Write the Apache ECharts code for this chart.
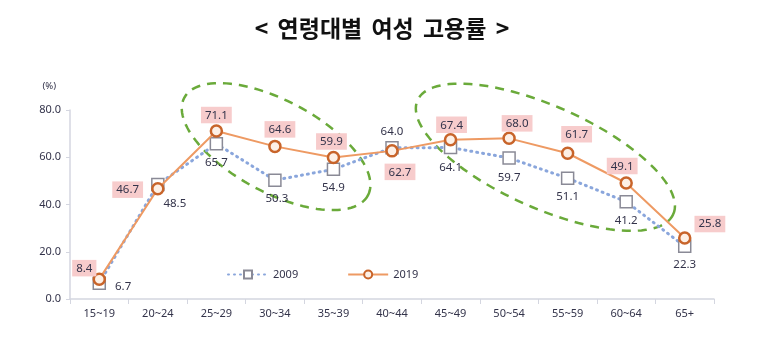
<!DOCTYPE html>
<html>
<head>
<meta charset="utf-8">
<script src="https://cdn.jsdelivr.net/npm/echarts@6/dist/echarts.min.js"></script>
<style>
  html, body { margin: 0; padding: 0; background: #fff; }
  #chart { width: 764px; height: 346px; }
</style>
</head>
<body>
<div id="chart"></div>
<script>
// Women's employment rate by age group (%)
const ageGroups = ['15~19', '20~24', '25~29', '30~34', '35~39', '40~44', '45~49', '50~54', '55~59', '60~64', '65+'];
const rate2009 = [6.7, 48.5, 65.7, 50.3, 54.9, 64.0, 64.1, 59.7, 51.1, 41.2, 22.3];
const rate2019 = [8.4, 46.7, 71.1, 64.6, 59.9, 62.7, 67.4, 68.0, 61.7, 49.1, 25.8];
const yTicks = [0, 20, 40, 60, 80];

// label placement per point: [position, dx, dy]
const pos2009 = [['right', 4, 4], ['bottom', 17, 2], ['bottom', 0, 1], ['bottom', 2, 1], ['bottom', 0, 1], ['top', 0, 1], ['bottom', 0, 3], ['bottom', 0, 2], ['bottom', 0, 1], ['bottom', 0, 2], ['bottom', 0, 1]];
const pos2019 = [['top', -15, 9], ['left', -3, 1], ['top', 0, 4], ['top', 5, 3], ['top', -2, 4], ['bottom', 8, 1], ['top', 1, 5], ['top', 8, 5], ['top', 9, 1], ['top', -4, 3], ['right', -2, -14]];

const textColor = '#33334a';
const font = '"Noto Sans", "Noto Sans CJK KR", sans-serif';
const titleFont = '"Noto Sans CJK KR", sans-serif';

const chart = echarts.init(document.getElementById('chart'));

function labelled(values, places, extra) {
  return values.map((v, i) => ({
    value: v,
    label: Object.assign({
      position: places[i][0],
      offset: [places[i][1], places[i][2]]
    }, extra || {})
  }));
}

chart.setOption({
  animation: false,
  title: {
    text: '{w|<} {w|연령대별} {w|여성} {w|고용률} {w|>}',
    left: 'center',
    top: 12,
    padding: [5, 5, 5, 19],
    textStyle: {
      fontFamily: titleFont, fontSize: 23, fontWeight: 'bold', color: '#111',
      rich: {
        w: { fontFamily: titleFont, fontSize: 23, fontWeight: 'bold', color: '#111', padding: [0, 2, 0, 2] }
      }
    }
  },
  grid: { left: 70, right: 50, top: 110, bottom: 47 },
  legend: {
    left: 222,
    top: 264,
    itemWidth: 40,
    itemHeight: 10,
    itemGap: 49,
    textStyle: { fontFamily: font, fontSize: 11, color: textColor },
    data: ['2009', '2019']
  },
  xAxis: {
    type: 'category',
    data: ageGroups,
    axisLine: { lineStyle: { color: '#d4d6e0', width: 1.5 } },
    axisTick: { show: true, length: 5, lineStyle: { color: '#d4d6e0' } },
    axisLabel: { fontFamily: font, fontSize: 11, color: textColor, margin: 9 }
  },
  yAxis: {
    type: 'value',
    min: yTicks[0],
    max: yTicks[yTicks.length - 1],
    interval: 20,
    name: '(%)',
    nameLocation: 'end',
    nameGap: 19,
    nameTextStyle: { fontFamily: font, fontSize: 9.5, color: textColor, align: 'right', padding: [0, 14, 0, 0] },
    splitLine: { show: false },
    axisLine: { show: true, lineStyle: { color: '#d4d6e0', width: 1.5 } },
    axisTick: { show: true, length: 4, lineStyle: { color: '#d4d6e0' } },
    axisLabel: { fontFamily: font, fontSize: 11, color: textColor, margin: 9, formatter: v => v.toFixed(1) }
  },
  series: [
    {
      name: '2009',
      type: 'line',
      data: labelled(rate2009, pos2009),
      symbol: 'rect',
      symbolSize: 12,
      z: 2,
      lineStyle: { color: '#8aa6dc', width: 3, type: [1, 5], cap: 'round' },
      itemStyle: { color: '#ffffff', borderColor: '#8a8a96', borderWidth: 1.5 },
      label: {
        show: true,
        fontFamily: font, fontSize: 11.5, color: textColor,
        formatter: p => p.value.toFixed(1)
      }
    },
    {
      name: '2019',
      type: 'line',
      data: labelled(rate2019, pos2019),
      symbol: 'circle',
      symbolSize: 11,
      z: 3,
      lineStyle: { color: '#ee9a63', width: 2 },
      itemStyle: { color: '#fdf0e6', borderColor: '#c8642a', borderWidth: 2.5 },
      label: {
        show: true,
        fontFamily: font, fontSize: 11.5, color: textColor,
        backgroundColor: '#f7cccc',
        padding: [3, 4, 2, 4],
        formatter: p => p.value.toFixed(1)
      }
    }
  ]
});

// Dashed ellipses highlighting the two regions of change.
// Centres are anchored to axis coordinates: [category index (fractional), value].
const highlights = [
  { at: [3.02, 64.5], rx: 104, ry: 46, tilt: 28 },
  { at: [7.62, 60.0], rx: 140, ry: 51, tilt: 24 }
];

function pixelOf(idx, val) {
  const i0 = Math.floor(idx);
  const p0 = chart.convertToPixel({ gridIndex: 0 }, [i0, val]);
  const p1 = chart.convertToPixel({ gridIndex: 0 }, [i0 + 1, val]);
  const f = idx - i0;
  return [p0[0] + (p1[0] - p0[0]) * f, p0[1]];
}

const ellipses = highlights.map(h => {
  const c = pixelOf(h.at[0], h.at[1]);
  const t = h.tilt * Math.PI / 180;
  const pts = [];
  for (let k = 0; k < 120; k++) {
    const a = k / 120 * Math.PI * 2;
    const ex = h.rx * Math.cos(a), ey = h.ry * Math.sin(a);
    pts.push([c[0] + ex * Math.cos(t) - ey * Math.sin(t), c[1] + ex * Math.sin(t) + ey * Math.cos(t)]);
  }
  return {
    type: 'polygon',
    shape: { points: pts },
    silent: true,
    z: 1,
    style: { fill: 'none', stroke: '#6aaa3a', lineWidth: 2.5, lineDash: [9, 7] }
  };
});

chart.setOption({ graphic: ellipses });
</script>
</body>
</html>
